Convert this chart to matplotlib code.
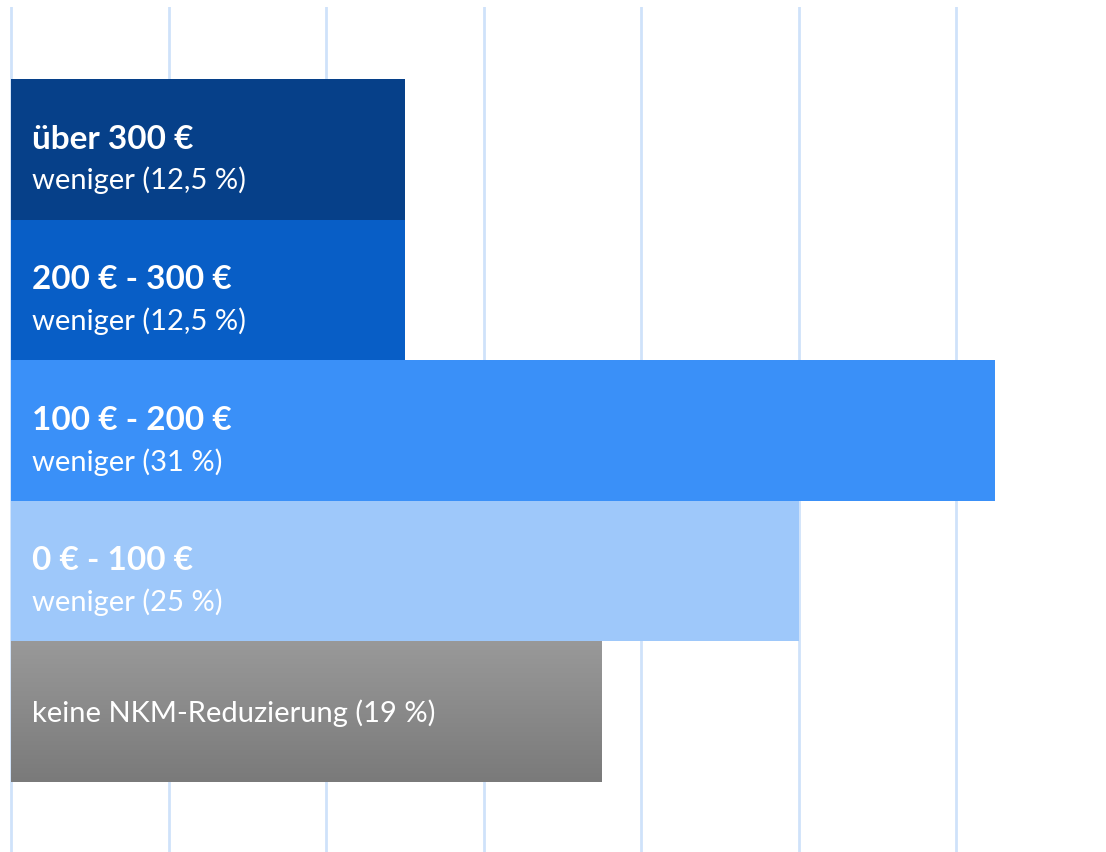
import numpy as np
import matplotlib
matplotlib.use('Agg')
import matplotlib.pyplot as plt

plt.rcParams['font.family'] = ['Lato', 'DejaVu Sans']

categories = ['über 300 €', '200 € - 300 €', '100 € - 200 €', '0 € - 100 €', 'keine NKM-Reduzierung']
values = [12.5, 12.5, 31.25, 25, 18.75]
sublabels = ['weniger (12,5 %)', 'weniger (12,5 %)', 'weniger (31 %)', 'weniger (25 %)', '']
colors = ['#064089', '#085EC6', '#3A90F8', '#9EC8FA', '#8a8a8a']

fig = plt.figure(figsize=(11.06, 8.52), dpi=100)
ax = fig.add_axes([0, 0, 1, 845 / 852])

pos = np.arange(len(categories))
bars = ax.barh(pos, values, height=1.0, color=colors, zorder=2)

# grey bar gets a vertical gradient
gb = bars[-1]
grad = np.linspace(0, 1, 256).reshape(-1, 1)
cmap = matplotlib.colors.LinearSegmentedColormap.from_list('g', ['#999999', '#7a7a7a'])
im = ax.imshow(grad, cmap=cmap, aspect='auto', zorder=3,
               extent=[gb.get_x(), gb.get_x() + gb.get_width(),
                       gb.get_y() + gb.get_height(), gb.get_y()])
im.set_clip_path(gb)

for i, (cat, sub) in enumerate(zip(categories, sublabels)):
    if sub:
        ax.text(0.67, i - 0.005, cat, color='white', fontsize=24, fontweight='bold',
                va='baseline', zorder=4)
        ax.text(0.67, i + 0.285, sub, color='white', fontsize=21,
                va='baseline', zorder=4)
    else:
        ax.text(0.67, i + 0.07, cat + ' (19 %)', color='white', fontsize=21,
                va='baseline', zorder=4)

ax.set_xlim(-11 / 31.5, 1095 / 31.5)
ax.set_ylim(4.5 + 70 / 140.6, -0.5 - 72 / 140.6)
ax.set_xticks(np.arange(0, 35, 5))
ax.grid(axis='x', color='#cfe2fa', linewidth=2, zorder=1)
ax.set_axisbelow(True)
ax.tick_params(left=False, bottom=False, labelleft=False, labelbottom=False)
for s in ax.spines.values():
    s.set_visible(False)

fig.savefig('out.png', dpi=100)
